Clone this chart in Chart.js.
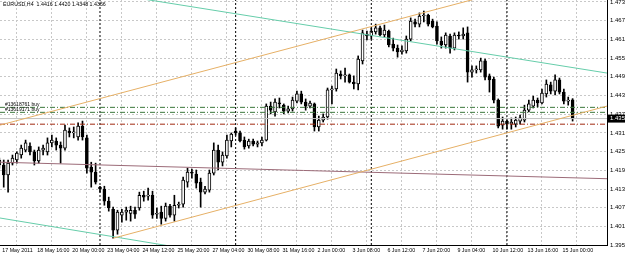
<!DOCTYPE html>
<html>
<head>
<meta charset="utf-8">
<script src="https://cdn.jsdelivr.net/npm/chart.js@4.4.0/dist/chart.umd.min.js"></script>
<style>
  html, body { margin: 0; padding: 0; background: #fff; }
</style>
</head>
<body>
<canvas id="eurusdChart" width="625" height="255"></canvas>
<script>
const symbolTitle = "EURUSD,H4  1.4416 1.4420 1.4348 1.4356";

// H4 bars, 17 May 2011 08:00 .. 15 Jun 2011 12:00
const opens = [1.4207,1.4207,1.4175,1.4213,1.4223,1.4239,1.4255,1.4268,1.4249,1.4220,
  1.4255,1.4249,1.4278,1.4284,1.4271,1.4261,1.4316,1.4310,1.4297,1.4332,
  1.4294,1.4200,1.4184,1.4136,1.4130,1.4091,1.4065,1.3998,1.4046,1.4056,
  1.4052,1.4062,1.4069,1.4110,1.4107,1.4110,1.4049,1.4056,1.4036,1.4075,
  1.4046,1.4078,1.4081,1.4152,1.4184,1.4178,1.4152,1.4120,1.4126,1.4181,
  1.4255,1.4216,1.4236,1.4284,1.4316,1.4310,1.4287,1.4268,1.4284,1.4274,
  1.4278,1.4287,1.4396,1.4377,1.4406,1.4399,1.4380,1.4387,1.4412,1.4435,
  1.4409,1.4396,1.4403,1.4329,1.4351,1.4361,1.4448,1.4451,1.4499,1.4493,
  1.4496,1.4473,1.4467,1.4541,1.4627,1.4621,1.4634,1.4647,1.4624,1.4637,
  1.4595,1.4582,1.4570,1.4573,1.4611,1.4666,1.4659,1.4685,1.4688,1.4669,
  1.4653,1.4605,1.4592,1.4621,1.4582,1.4624,1.4621,1.4631,1.4505,1.4512,
  1.4512,1.4541,1.4493,1.4483,1.4415,1.4335,1.4348,1.4338,1.4338,1.4348,
  1.4351,1.4383,1.4396,1.4415,1.4406,1.4435,1.4464,1.4444,1.4480,1.4441,
  1.4412,1.4416];
const highs = [1.4229,1.4223,1.4223,1.4239,1.4249,1.4271,1.4287,1.4278,1.4255,1.4265,
  1.4271,1.4294,1.4303,1.4294,1.4281,1.4335,1.4326,1.4329,1.4342,1.4348,
  1.4303,1.4216,1.4213,1.4139,1.4139,1.4104,1.4072,1.4062,1.4065,1.4072,
  1.4075,1.4072,1.4120,1.4123,1.4133,1.4123,1.4069,1.4075,1.4085,1.4081,
  1.4110,1.4088,1.4168,1.4197,1.4194,1.4191,1.4165,1.4139,1.4191,1.4278,
  1.4271,1.4249,1.4303,1.4310,1.4326,1.4316,1.4297,1.4290,1.4290,1.4284,
  1.4297,1.4403,1.4409,1.4419,1.4422,1.4403,1.4396,1.4425,1.4444,1.4444,
  1.4419,1.4412,1.4406,1.4364,1.4371,1.4454,1.4460,1.4515,1.4509,1.4518,
  1.4499,1.4493,1.4557,1.4640,1.4637,1.4647,1.4659,1.4653,1.4656,1.4640,
  1.4614,1.4592,1.4589,1.4621,1.4679,1.4675,1.4695,1.4701,1.4691,1.4675,
  1.4666,1.4618,1.4631,1.4627,1.4631,1.4634,1.4647,1.4650,1.4525,1.4525,
  1.4550,1.4547,1.4499,1.4489,1.4419,1.4361,1.4351,1.4358,1.4361,1.4367,
  1.4399,1.4415,1.4428,1.4422,1.4451,1.4480,1.4473,1.4496,1.4486,1.4451,
  1.4425,1.4420];
const lows = [1.4197,1.4136,1.4120,1.4207,1.4213,1.4229,1.4249,1.4239,1.4207,1.4213,
  1.4239,1.4239,1.4265,1.4255,1.4213,1.4255,1.4297,1.4294,1.4287,1.4287,
  1.4181,1.4136,1.4146,1.4120,1.4078,1.4059,1.3972,1.3985,1.4024,1.4030,
  1.4027,1.4036,1.4062,1.4091,1.4094,1.4036,1.4036,1.4017,1.4027,1.4040,
  1.4027,1.4069,1.4072,1.4136,1.4165,1.4133,1.4072,1.4114,1.4120,1.4175,
  1.4191,1.4204,1.4229,1.4265,1.4303,1.4281,1.4258,1.4261,1.4268,1.4265,
  1.4268,1.4284,1.4371,1.4364,1.4390,1.4371,1.4374,1.4380,1.4406,1.4403,
  1.4383,1.4390,1.4316,1.4316,1.4345,1.4354,1.4403,1.4444,1.4483,1.4473,
  1.4470,1.4451,1.4448,1.4531,1.4608,1.4611,1.4627,1.4621,1.4618,1.4586,
  1.4573,1.4553,1.4563,1.4566,1.4605,1.4650,1.4650,1.4666,1.4653,1.4647,
  1.4595,1.4582,1.4582,1.4566,1.4576,1.4611,1.4611,1.4473,1.4489,1.4502,
  1.4505,1.4480,1.4441,1.4406,1.4326,1.4322,1.4322,1.4322,1.4329,1.4338,
  1.4345,1.4377,1.4390,1.4393,1.4403,1.4425,1.4435,1.4432,1.4435,1.4403,
  1.4399,1.4348];
const closes = [1.4223,1.4175,1.4213,1.4229,1.4245,1.4261,1.4278,1.4249,1.4220,1.4255,
  1.4261,1.4278,1.4287,1.4271,1.4261,1.4319,1.4310,1.4313,1.4332,1.4297,
  1.4197,1.4184,1.4152,1.4130,1.4091,1.4069,1.3998,1.4056,1.4056,1.4062,
  1.4062,1.4049,1.4110,1.4104,1.4110,1.4046,1.4052,1.4036,1.4075,1.4046,
  1.4078,1.4081,1.4159,1.4184,1.4181,1.4149,1.4120,1.4130,1.4181,1.4255,
  1.4216,1.4239,1.4287,1.4306,1.4310,1.4284,1.4265,1.4284,1.4274,1.4278,
  1.4287,1.4396,1.4383,1.4409,1.4403,1.4380,1.4387,1.4415,1.4435,1.4409,
  1.4396,1.4406,1.4329,1.4351,1.4361,1.4448,1.4451,1.4502,1.4493,1.4496,
  1.4473,1.4467,1.4547,1.4631,1.4621,1.4637,1.4647,1.4624,1.4640,1.4592,
  1.4582,1.4570,1.4576,1.4611,1.4669,1.4659,1.4685,1.4688,1.4659,1.4650,
  1.4605,1.4592,1.4624,1.4582,1.4624,1.4621,1.4627,1.4505,1.4512,1.4515,
  1.4541,1.4489,1.4480,1.4415,1.4332,1.4348,1.4338,1.4345,1.4351,1.4358,
  1.4383,1.4403,1.4415,1.4406,1.4438,1.4467,1.4444,1.4480,1.4441,1.4412,
  1.4415,1.4356];

// time axis: one label every 8 bars
const timeLabels = ["17 May 2011", "18 May 16:00", "20 May 00:00", "23 May 04:00", "24 May 12:00",
  "25 May 20:00", "27 May 04:00", "30 May 08:00", "31 May 16:00", "2 Jun 00:00", "3 Jun 08:00",
  "6 Jun 12:00", "7 Jun 20:00", "9 Jun 04:00", "10 Jun 12:00", "13 Jun 16:00", "15 Jun 00:00"];
const barsPerLabel = 8;
const weekStarts = [23, 54, 85, 116];

const priceTicks = [1.3950, 1.4010, 1.4070, 1.4130, 1.4190, 1.4250, 1.4310, 1.4370,
  1.4430, 1.4490, 1.4550, 1.4610, 1.4670, 1.4730];

// objects on the chart, [bar, price]
const upperTrend = [[0.15, 1.4335], [138.86, 1.4852]];
const lowerTrend = [[26, 1.3972], [138.86, 1.4396]];
const tealUpper = [[0.15, 1.4813], [138.86, 1.4502]];
const tealLower = [[0.15, 1.4037], [138.86, 1.3716]];
const slowAverage = [[0.15, 1.4216], [138.86, 1.4163]];
const orderTags = ["#13618761 buy", "#13619171 buy"];
const orderLevels = [1.4392, 1.4376];
const stopLevel = 1.4338;

const xMin = 0.15, xMax = 138.86;
const yMin = 1.39504, yMax = 1.47364;

function lineSet(points, color, dash) {
  return {
    type: 'line',
    data: points.map(p => ({ x: p[0], y: p[1] })),
    borderColor: color,
    borderWidth: 1,
    borderDash: dash || [],
    pointRadius: 0,
    fill: false,
    order: 0
  };
}

const wicks = {
  type: 'bar',
  data: opens.map((o, i) => ({ x: i, y: [lows[i], highs[i]] })),
  backgroundColor: '#000',
  barThickness: 1,
  grouped: false,
  order: 2
};

const bodies = {
  type: 'bar',
  data: opens.map((o, i) => ({ x: i, y: [o, closes[i]] })),
  backgroundColor: opens.map((o, i) => closes[i] >= o ? '#fff' : '#000'),
  borderColor: '#000',
  borderWidth: 1,
  borderSkipped: false,
  barThickness: 3,
  minBarLength: 1,
  grouped: false,
  order: 1
};

const lastClose = closes[closes.length - 1];

const datasets = [
  bodies, wicks,
  lineSet(upperTrend, '#e6b066'),
  lineSet(lowerTrend, '#e6b066'),
  lineSet(tealUpper, '#66cdaa'),
  lineSet(tealLower, '#66cdaa'),
  lineSet(slowAverage, '#9c6b78'),
  lineSet([[xMin, orderLevels[0]], [xMax, orderLevels[0]]], '#3c783c', [5, 2, 1, 2]),
  lineSet([[xMin, orderLevels[1]], [xMax, orderLevels[1]]], '#3c783c', [5, 2, 1, 2]),
  lineSet([[xMin, lastClose], [xMax, lastClose]], '#c0c0c0'),
  lineSet([[xMin, stopLevel], [xMax, stopLevel]], '#a02810', [5, 2, 1, 2])
];
weekStarts.forEach(w => datasets.push(lineSet([[w, yMin], [w, yMax]], '#000', [2, 2])));

const overlayText = {
  id: 'overlayText',
  afterDraw(chart) {
    const ctx = chart.ctx;
    const yScale = chart.scales.y;
    const right = chart.chartArea.right;
    ctx.save();
    ctx.textBaseline = 'middle';
    ctx.fillStyle = '#000';
    ctx.font = '5.3px "Liberation Sans"';
    ctx.fillText(symbolTitle, 3, 5);
    ctx.font = '5px "Liberation Sans"';
    orderTags.forEach((tag, k) => {
      ctx.fillText(tag, 5, yScale.getPixelForValue(orderLevels[k]) - 3);
    });
    // bid price box on the axis
    const py = yScale.getPixelForValue(lastClose);
    ctx.fillRect(right + 1, py - 4, 20, 8);
    ctx.fillStyle = '#fff';
    ctx.font = '6px "Liberation Sans"';
    ctx.fillText(lastClose.toFixed(4), right + 3, py);
    ctx.restore();
  }
};

const gridStyle = { color: '#c8c8c8', lineWidth: 1, drawTicks: false };
const borderStyle = { display: true, color: '#000', width: 1, dash: [2, 2] };

new Chart(document.getElementById('eurusdChart'), {
  type: 'bar',
  data: { datasets: datasets },
  options: {
    responsive: false,
    animation: false,
    devicePixelRatio: 1,
    layout: { padding: 0 },
    plugins: { legend: { display: false }, tooltip: { enabled: false } },
    scales: {
      x: {
        type: 'linear',
        min: xMin,
        max: xMax,
        offset: false,
        grid: gridStyle,
        border: borderStyle,
        ticks: {
          autoSkip: false,
          maxRotation: 0,
          minRotation: 0,
          align: 'start',
          labelOffset: 3,
          padding: 2,
          color: '#000',
          font: { family: "Liberation Sans", size: 5.3 },
          callback: v => timeLabels[Math.round(v / barsPerLabel)]
        },
        afterBuildTicks: s => { s.ticks = timeLabels.map((t, k) => ({ value: k * barsPerLabel })); },
        afterFit: s => { s.height = 10; s.paddingLeft = 0; s.paddingRight = 0; }
      },
      y: {
        type: 'linear',
        position: 'right',
        min: yMin,
        max: yMax,
        grid: gridStyle,
        border: borderStyle,
        ticks: {
          padding: 3,
          color: '#000',
          font: { family: "Liberation Sans", size: 6 },
          callback: v => v.toFixed(4)
        },
        afterBuildTicks: s => { s.ticks = priceTicks.map(v => ({ value: v })); },
        afterFit: s => { s.width = 18; s.paddingTop = 0; s.paddingBottom = 0; }
      }
    }
  },
  plugins: [overlayText]
});
</script>
</body>
</html>
